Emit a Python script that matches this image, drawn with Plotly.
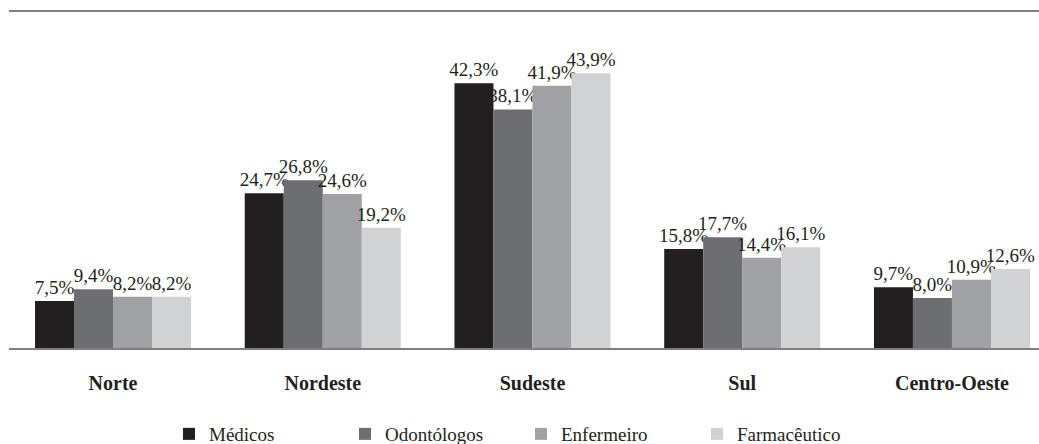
import plotly.graph_objects as go

# Regional distribution of health professionals (%)
regioes = ["Norte", "Nordeste", "Sudeste", "Sul", "Centro-Oeste"]
medicos = [7.5, 24.7, 42.3, 15.8, 9.7]
odontologos = [9.4, 26.8, 38.1, 17.7, 8.0]
enfermeiros = [8.2, 24.6, 41.9, 14.4, 10.9]
farmaceuticos = [8.2, 19.2, 43.9, 16.1, 12.6]

series = [
    ("Médicos", medicos, "#231f20"),
    ("Odontólogos", odontologos, "#6d6e71"),
    ("Enfermeiro", enfermeiros, "#a0a1a5"),
    ("Farmacêutico", farmaceuticos, "#d1d2d4"),
]

SERIF = "Liberation Serif, Times New Roman, serif"
INK = "#231f20"


def pct(v):
    return f"{v:.1f}%".replace(".", ",")


fig = go.Figure()
for nome, valores, cor in series:
    fig.add_trace(go.Bar(
        name=nome,
        x=regioes,
        y=valores,
        marker=dict(color=cor, line=dict(width=0)),
        text=[pct(v) for v in valores],
        textposition="outside",
        textangle=0,
        constraintext="none",
        cliponaxis=False,
        textfont=dict(family=SERIF, size=19, color=INK),
    ))

fig.update_layout(
    width=1039,
    height=444,
    margin=dict(l=9, r=0, t=12, b=96),
    paper_bgcolor="white",
    plot_bgcolor="white",
    barmode="group",
    bargap=0.256,
    bargroupgap=0,
    showlegend=True,
    legend=dict(
        orientation="h",
        xref="container",
        yref="container",
        x=169 / 1039,
        xanchor="left",
        y=1 - 434 / 444,
        yanchor="middle",
        entrywidth=131,
        entrywidthmode="pixels",
        font=dict(family=SERIF, size=19, color=INK),
        bgcolor="rgba(0,0,0,0)",
        traceorder="normal",
    ),
    xaxis=dict(
        type="category",
        range=[-0.496, 4.415],
        showline=True,
        mirror=True,
        linecolor="#808080",
        linewidth=2,
        showgrid=False,
        zeroline=False,
        ticks="outside",
        ticklen=16,
        tickcolor="rgba(0,0,0,0)",
        tickfont=dict(family=SERIF, size=20, color=INK, weight="bold"),
    ),
    yaxis=dict(
        range=[0, 53.67],
        showgrid=False,
        zeroline=False,
        showticklabels=False,
        showline=False,
        ticks="",
    ),
)

fig.write_html("out.html")
